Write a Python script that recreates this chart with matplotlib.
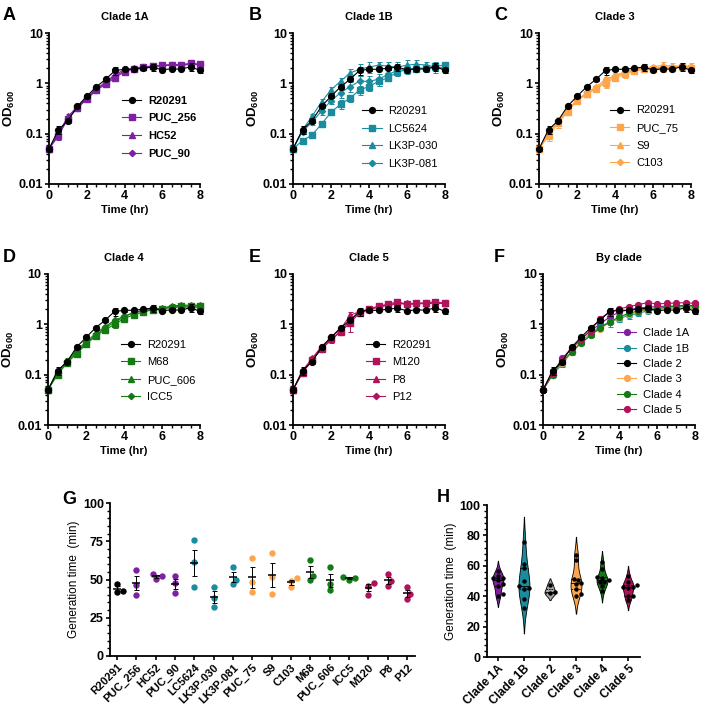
import numpy as np
import matplotlib
matplotlib.use("Agg")
import matplotlib.pyplot as plt
from matplotlib.ticker import MultipleLocator, FixedLocator, NullFormatter

plt.rcParams["font.family"] = ["Liberation Sans", "DejaVu Sans"]
plt.rcParams["mathtext.fontset"] = "custom"
plt.rcParams["mathtext.rm"] = "Liberation Sans"
plt.rcParams["mathtext.bf"] = "Liberation Sans:bold"

# colours per clade
c1a = "#7F1FA2"
c1b = "#1A8C9E"
c2 = "#000000"
c3 = "#FFA64D"
c4 = "#147A14"
c5 = "#B0125B"

# ---------------- growth curves (OD600) ----------------
time = [0, 0.5, 1, 1.5, 2, 2.5, 3, 3.5, 4, 4.5, 5, 5.5, 6, 6.5, 7, 7.5, 8]

r20291 = [0.05, 0.12, 0.18, 0.35, 0.55, 0.85, 1.2, 1.8, 1.9, 1.9, 2.0, 2.1, 1.85, 1.95, 1.9, 2.15, 1.8]
r20291_err = [0.005, 0.02, 0.02, 0.03, 0.05, 0.08, 0.1, 0.35, 0.15, 0.1, 0.15, 0.35, 0.1, 0.15, 0.1, 0.4, 0.2]

# clade 1A
puc256 = [0.05, 0.09, 0.2, 0.32, 0.48, 0.73, 0.95, 1.3, 1.7, 1.95, 2.15, 2.2, 2.3, 2.35, 2.35, 2.5, 2.4]
puc256_err = [0.005, 0.015, 0.02, 0.03, 0.04, 0.06, 0.08, 0.1, 0.1, 0.1, 0.1, 0.1, 0.1, 0.1, 0.1, 0.15, 0.15]
hc52 = [0.05, 0.1, 0.22, 0.34, 0.52, 0.78, 1.05, 1.5, 1.85, 2.0, 2.1, 2.2, 2.25, 2.3, 2.3, 2.4, 2.35]
hc52_err = [0.005, 0.01, 0.03, 0.03, 0.04, 0.05, 0.08, 0.1, 0.1, 0.1, 0.1, 0.1, 0.1, 0.1, 0.1, 0.1, 0.1]
puc90 = [0.05, 0.1, 0.2, 0.33, 0.5, 0.75, 1.0, 1.4, 1.75, 1.95, 2.1, 2.15, 2.25, 2.3, 2.3, 2.4, 2.35]
puc90_err = [0.005, 0.01, 0.02, 0.03, 0.04, 0.05, 0.08, 0.1, 0.1, 0.1, 0.1, 0.1, 0.1, 0.1, 0.1, 0.1, 0.1]

# clade 1B
lc5624 = [0.05, 0.073, 0.094, 0.155, 0.264, 0.385, 0.505, 0.74, 0.86, 1.1, 1.29, 1.7, 1.85, 1.95, 2.0, 2.2, 2.3]
lc5624_err = [0.005, 0.01, 0.01, 0.02, 0.03, 0.08, 0.08, 0.15, 0.15, 0.2, 0.2, 0.3, 0.3, 0.3, 0.3, 0.35, 0.4]
lk3p030 = [0.05, 0.12, 0.22, 0.43, 0.74, 1.1, 1.6, 1.9, 2.1, 2.3, 2.2, 2.1, 2.3, 2.4, 2.3, 2.1, 2.0]
lk3p030_err = [0.005, 0.02, 0.03, 0.05, 0.1, 0.15, 0.3, 0.5, 0.5, 0.4, 0.4, 0.5, 0.6, 0.5, 0.4, 0.5, 0.4]
lk3p081 = [0.05, 0.11, 0.17, 0.28, 0.45, 0.65, 0.86, 1.1, 1.1, 1.2, 1.5, 1.8, 1.9, 2.0, 2.0, 2.1, 2.0]
lk3p081_err = [0.005, 0.01, 0.02, 0.04, 0.06, 0.15, 0.2, 0.3, 0.3, 0.3, 0.3, 0.3, 0.3, 0.3, 0.3, 0.3, 0.3]

# clade 3
puc75 = [0.05, 0.09, 0.16, 0.27, 0.45, 0.6, 0.78, 1.0, 1.3, 1.5, 1.75, 1.9, 1.9, 2.0, 2.0, 2.1, 2.0]
puc75_err = [0.005, 0.02, 0.03, 0.03, 0.05, 0.06, 0.1, 0.2, 0.2, 0.2, 0.2, 0.2, 0.2, 0.3, 0.2, 0.2, 0.2]
s9 = [0.05, 0.1, 0.17, 0.28, 0.46, 0.62, 0.8, 1.1, 1.4, 1.6, 1.8, 2.0, 2.1, 2.3, 2.2, 2.2, 2.2]
s9_err = [0.005, 0.03, 0.04, 0.04, 0.05, 0.06, 0.1, 0.25, 0.2, 0.2, 0.2, 0.25, 0.25, 0.4, 0.3, 0.3, 0.3]
c103 = [0.05, 0.11, 0.18, 0.3, 0.47, 0.64, 0.85, 1.2, 1.4, 1.7, 1.9, 2.0, 2.0, 2.1, 2.1, 2.2, 2.1]
c103_err = [0.005, 0.02, 0.02, 0.03, 0.04, 0.05, 0.08, 0.15, 0.15, 0.15, 0.15, 0.15, 0.15, 0.2, 0.15, 0.15, 0.15]

# clade 4
m68 = [0.05, 0.1, 0.17, 0.26, 0.4, 0.58, 0.78, 1.0, 1.3, 1.55, 1.75, 1.95, 2.05, 2.15, 2.3, 2.3, 2.3]
m68_err = [0.005, 0.01, 0.02, 0.02, 0.04, 0.05, 0.08, 0.15, 0.15, 0.15, 0.15, 0.2, 0.2, 0.2, 0.2, 0.3, 0.3]
puc606 = [0.05, 0.11, 0.18, 0.28, 0.42, 0.6, 0.85, 1.1, 1.4, 1.7, 1.9, 2.0, 2.1, 2.3, 2.4, 2.4, 2.4]
puc606_err = [0.005, 0.01, 0.02, 0.03, 0.04, 0.05, 0.08, 0.15, 0.15, 0.15, 0.15, 0.15, 0.15, 0.2, 0.2, 0.2, 0.3]
icc5 = [0.05, 0.11, 0.19, 0.3, 0.45, 0.65, 0.9, 1.2, 1.45, 1.7, 1.85, 2.0, 2.05, 2.2, 2.2, 2.2, 2.2]
icc5_err = [0.005, 0.01, 0.02, 0.03, 0.04, 0.05, 0.08, 0.1, 0.1, 0.1, 0.1, 0.15, 0.15, 0.15, 0.15, 0.15, 0.15]

# clade 5
m120 = [0.05, 0.11, 0.2, 0.32, 0.5, 0.72, 1.05, 1.7, 2.0, 2.3, 2.5, 2.8, 2.5, 2.6, 2.7, 2.8, 2.6]
m120_err = [0.005, 0.01, 0.02, 0.04, 0.06, 0.1, 0.35, 0.2, 0.2, 0.2, 0.3, 0.3, 0.3, 0.3, 0.3, 0.3, 0.3]
p8 = [0.05, 0.12, 0.21, 0.36, 0.55, 0.8, 1.5, 1.8, 2.0, 2.2, 2.4, 2.6, 2.6, 2.6, 2.6, 2.6, 2.6]
p8_err = [0.005, 0.01, 0.02, 0.05, 0.08, 0.1, 0.25, 0.2, 0.2, 0.2, 0.2, 0.2, 0.2, 0.2, 0.2, 0.2, 0.2]
p12 = [0.05, 0.11, 0.19, 0.33, 0.48, 0.72, 1.2, 1.75, 1.95, 2.25, 2.45, 2.6, 2.5, 2.55, 2.6, 2.7, 2.6]
p12_err = [0.005, 0.01, 0.02, 0.03, 0.05, 0.08, 0.15, 0.15, 0.15, 0.15, 0.2, 0.2, 0.2, 0.2, 0.2, 0.2, 0.2]

# by clade (means)
clade1a = [0.05, 0.1, 0.21, 0.33, 0.5, 0.75, 1.0, 1.4, 1.75, 1.95, 2.1, 2.2, 2.25, 2.3, 2.3, 2.4, 2.35]
clade1a_err = [0.005, 0.01, 0.02, 0.02, 0.03, 0.04, 0.06, 0.08, 0.08, 0.08, 0.08, 0.08, 0.08, 0.08, 0.08, 0.1, 0.1]
clade1b = [0.05, 0.1, 0.16, 0.28, 0.45, 0.65, 0.9, 1.1, 1.3, 1.5, 1.65, 1.85, 2.0, 2.1, 2.1, 2.1, 2.1]
clade1b_err = [0.005, 0.01, 0.02, 0.03, 0.05, 0.08, 0.12, 0.2, 0.2, 0.2, 0.2, 0.2, 0.2, 0.2, 0.2, 0.2, 0.2]
clade3 = [0.05, 0.1, 0.17, 0.28, 0.46, 0.62, 0.8, 1.1, 1.35, 1.6, 1.8, 1.95, 2.0, 2.1, 2.1, 2.15, 2.1]
clade3_err = [0.005, 0.01, 0.02, 0.02, 0.03, 0.04, 0.06, 0.1, 0.1, 0.1, 0.1, 0.12, 0.12, 0.15, 0.12, 0.12, 0.12]
clade4 = [0.05, 0.1, 0.18, 0.28, 0.42, 0.6, 0.85, 1.1, 1.4, 1.65, 1.85, 2.0, 2.05, 2.2, 2.3, 2.3, 2.3]
clade4_err = [0.005, 0.01, 0.02, 0.02, 0.03, 0.04, 0.06, 0.1, 0.1, 0.1, 0.1, 0.1, 0.1, 0.12, 0.12, 0.12, 0.15]
clade5 = [0.05, 0.11, 0.2, 0.34, 0.5, 0.75, 1.3, 1.75, 2.0, 2.25, 2.45, 2.7, 2.55, 2.6, 2.65, 2.7, 2.6]
clade5_err = [0.005, 0.01, 0.02, 0.03, 0.04, 0.06, 0.15, 0.12, 0.12, 0.12, 0.15, 0.15, 0.15, 0.15, 0.15, 0.15, 0.15]

# ---------------- generation times ----------------
gen_strains = ["R20291", "PUC_256", "HC52", "PUC_90", "LC5624", "LK3P-030", "LK3P-081",
               "PUC_75", "S9", "C103", "M68", "PUC_606", "ICC5", "M120", "P8", "P12"]
gen_clade = ["Clade 2", "Clade 1A", "Clade 1A", "Clade 1A", "Clade 1B", "Clade 1B", "Clade 1B",
             "Clade 3", "Clade 3", "Clade 3", "Clade 4", "Clade 4", "Clade 4", "Clade 5", "Clade 5", "Clade 5"]
gen_times = [[47.2, 42.6, 42.0], [56.3, 46.5, 40.0], [53.5, 52.0, 50.4], [52.0, 48.0, 41.5],
             [75.5, 61.4, 45.4], [45.0, 38.2, 32.3], [58.3, 50.0, 47.0], [64.0, 48.3, 41.7],
             [67.2, 51.5, 40.4], [50.9, 48.7, 44.8], [62.5, 52.5, 49.5], [57.9, 47.0, 43.2],
             [51.8, 50.8, 49.5], [47.6, 46.0, 40.0], [53.5, 49.1, 46.0], [45.4, 40.4, 37.3]]
clade_names = ["Clade 1A", "Clade 1B", "Clade 2", "Clade 3", "Clade 4", "Clade 5"]
clade_colors = {"Clade 1A": c1a, "Clade 1B": c1b, "Clade 2": c2,
                "Clade 3": c3, "Clade 4": c4, "Clade 5": c5}
violin_colors = {"Clade 1A": c1a, "Clade 1B": c1b, "Clade 2": "#A6A6A6",
                 "Clade 3": c3, "Clade 4": c4, "Clade 5": c5}

W, H = 708, 710
fig = plt.figure(figsize=(W / 100, H / 100), dpi=100)

TICK = 9      # tick label size
LAB = 8       # axis label size


def px_axes(left, top, right, bottom):
    return fig.add_axes([left / W, 1 - bottom / H, (right - left) / W, (bottom - top) / H])


def style_axes(ax):
    for s in ["top", "right"]:
        ax.spines[s].set_visible(False)
    for s in ["left", "bottom"]:
        ax.spines[s].set_linewidth(1.3)
    ax.tick_params(which="major", length=3, width=1.2, labelsize=TICK, pad=1.5)
    ax.tick_params(which="minor", length=2, width=1.0)
    for lab in ax.get_xticklabels() + ax.get_yticklabels():
        lab.set_fontweight("bold")


def growth_panel(ax, title, series, leg_xy, bold_legend=False, labelspacing=0.68):
    handles = []
    for label, vals, errs, marker, color in series:
        ms = 3.2 if marker == "D" else 4.2
        cont = ax.errorbar(time, vals, yerr=errs, color=color, marker=marker, ms=ms,
                           lw=0.8, elinewidth=0.7, capsize=1.8, capthick=0.7,
                           clip_on=False, zorder=5 if label in ("R20291", "Clade 2") else 3)
        handles.append(cont[0])
    ax.set_yscale("log")
    ax.set_ylim(0.01, 10)
    ax.set_xlim(0, 8)
    ax.set_yticks([0.01, 0.1, 1, 10])
    ax.set_yticklabels(["0.01", "0.1", "1", "10"])
    ax.xaxis.set_major_locator(MultipleLocator(2))
    ax.xaxis.set_minor_locator(MultipleLocator(0.5))
    minors = [m * 10.0 ** e for e in (-2, -1, 0) for m in range(2, 10)]
    ax.yaxis.set_minor_locator(FixedLocator(minors))
    ax.yaxis.set_minor_formatter(NullFormatter())
    ax.set_xlabel("Time (hr)", fontsize=LAB, fontweight="bold", labelpad=2)
    ax.set_ylabel(r"$\mathbf{OD_{600}}$", fontsize=9.5, labelpad=1)
    ax.set_title(title, fontsize=8, fontweight="bold", pad=9)
    style_axes(ax)
    leg = ax.legend(handles, [s[0] for s in series], loc="upper left", bbox_to_anchor=leg_xy,
                    frameon=False, fontsize=8, handlelength=1.75, handletextpad=0.6,
                    labelspacing=labelspacing, borderpad=0, borderaxespad=0)
    if bold_legend:
        for t in leg.get_texts():
            t.set_fontweight("bold")


ref = ("R20291", r20291, r20291_err, "o", "black")

axA = px_axes(49, 33, 200, 184)
growth_panel(axA, "Clade 1A", [ref, ("PUC_256", puc256, puc256_err, "s", c1a),
                               ("HC52", hc52, hc52_err, "^", c1a),
                               ("PUC_90", puc90, puc90_err, "D", c1a)], (0.483, 0.585), bold_legend=True)
axB = px_axes(293, 33, 445, 184)
growth_panel(axB, "Clade 1B", [ref, ("LC5624", lc5624, lc5624_err, "s", c1b),
                               ("LK3P-030", lk3p030, lk3p030_err, "^", c1b),
                               ("LK3P-081", lk3p081, lk3p081_err, "D", c1b)], (0.455, 0.515))
axC = px_axes(539, 33, 691, 184)
growth_panel(axC, "Clade 3", [ref, ("PUC_75", puc75, puc75_err, "s", c3),
                              ("S9", s9, s9_err, "^", c3),
                              ("C103", c103, c103_err, "D", c3)], (0.467, 0.52))
axD = px_axes(48, 274, 200, 425)
growth_panel(axD, "Clade 4", [ref, ("M68", m68, m68_err, "s", c4),
                              ("PUC_606", puc606, puc606_err, "^", c4),
                              ("ICC5", icc5, icc5_err, "D", c4)], (0.48, 0.565))
axE = px_axes(293, 274, 445, 425)
growth_panel(axE, "Clade 5", [ref, ("M120", m120, m120_err, "s", c5),
                              ("P8", p8, p8_err, "^", c5),
                              ("P12", p12, p12_err, "D", c5)], (0.48, 0.565))
axF = px_axes(543, 274, 695, 425)
growth_panel(axF, "By clade", [("Clade 1A", clade1a, clade1a_err, "o", c1a),
                               ("Clade 1B", clade1b, clade1b_err, "o", c1b),
                               ("Clade 2", r20291, r20291_err, "o", c2),
                               ("Clade 3", clade3, clade3_err, "o", c3),
                               ("Clade 4", clade4, clade4_err, "o", c4),
                               ("Clade 5", clade5, clade5_err, "o", c5)], (0.487, 0.64),
             labelspacing=0.48)


def swarm(vals, ypx, xpx, diam):
    vals = np.asarray(vals, dtype=float)
    offs = np.zeros(len(vals))
    placed = []
    for i in np.argsort(vals):
        y = vals[i] * ypx
        for k in [0, 1, -1, 2, -2, 3, -3, 4, -4]:
            x = k * diam * 0.55
            if all((x - px) ** 2 + (y - py) ** 2 >= (diam * 0.95) ** 2 for px, py in placed):
                break
        placed.append((x, y))
        offs[i] = x / xpx
    return offs


# ---------------- G ----------------
axG = px_axes(110, 503, 415, 656)
for i, (name, vals) in enumerate(zip(gen_strains, gen_times)):
    col = clade_colors[gen_clade[i]]
    offs = swarm(vals, 153 / 100, 19.3, 5.4)
    axG.plot(i + offs, vals, "o", color=col, ms=4.6, mec="none", zorder=3, clip_on=False)
    m = np.mean(vals)
    sem = np.std(vals, ddof=1) / np.sqrt(len(vals))
    axG.hlines(m, i - 0.2, i + 0.2, color="black", lw=1.1, zorder=4)
    axG.errorbar(i, m, yerr=sem, fmt="none", ecolor="black", elinewidth=0.7,
                 capsize=1.8, capthick=0.7, zorder=4)
axG.set_xlim(-0.36, len(gen_strains) - 1 + 0.41)
axG.set_ylim(0, 100)
axG.set_xticks(range(len(gen_strains)))
axG.set_xticklabels(gen_strains, rotation=45, ha="right", rotation_mode="anchor")
axG.yaxis.set_major_locator(MultipleLocator(25))
axG.yaxis.set_minor_locator(MultipleLocator(5))
axG.set_ylabel("Generation time  (min)", fontsize=8.5, labelpad=2)
style_axes(axG)
axG.tick_params(axis="x", labelsize=8)

# ---------------- H ----------------
axH = px_axes(487, 505, 640, 657)
for j, cname in enumerate(clade_names):
    vals = np.array([v for k, row in enumerate(gen_times) if gen_clade[k] == cname for v in row])
    bw = np.std(vals, ddof=1) * len(vals) ** (-0.2)
    ys = np.linspace(vals.min() - 2 * bw, vals.max() + 2 * bw, 300)
    dens = np.exp(-0.5 * ((ys[:, None] - vals[None, :]) / bw) ** 2).sum(axis=1)
    half = dens / dens.max() * 0.21
    axH.fill_betweenx(ys, j - half, j + half, facecolor=violin_colors[cname],
                      edgecolor="black", lw=0.6, zorder=2)
    q1, med, q3 = np.percentile(vals, [25, 50, 75])
    for q, ls in [(q1, (0, (2, 1))), (med, "-"), (q3, (0, (2, 1)))]:
        w = np.interp(q, ys, half)
        axH.plot([j - w, j + w], [q, q], color="black", lw=0.6, ls=ls, zorder=3)
    offs = swarm(vals, 152 / 100, 26.0, 4.2)
    axH.plot(j + offs, vals, "o", color="black", ms=3.2, mec="none", zorder=4)
axH.set_xlim(-0.42, len(clade_names) - 1 + 0.46)
axH.set_ylim(0, 100)
axH.set_xticks(range(len(clade_names)))
axH.set_xticklabels(clade_names, rotation=45, ha="right", rotation_mode="anchor")
axH.yaxis.set_major_locator(MultipleLocator(20))
axH.yaxis.set_minor_locator(MultipleLocator(4))
axH.set_ylabel("Generation time  (min)", fontsize=8.5, labelpad=2)
style_axes(axH)
axH.tick_params(axis="x", labelsize=8.5)

# panel letters
for letter, x, y in [("A", 3, 16), ("B", 249, 16), ("C", 494, 16),
                     ("D", 3, 257), ("E", 249, 257), ("F", 494, 257),
                     ("G", 62, 499), ("H", 437, 498)]:
    fig.text(x / W, 1 - y / H, letter, fontsize=13, fontweight="bold", va="center", ha="left")

fig.savefig("out.png", dpi=100)
